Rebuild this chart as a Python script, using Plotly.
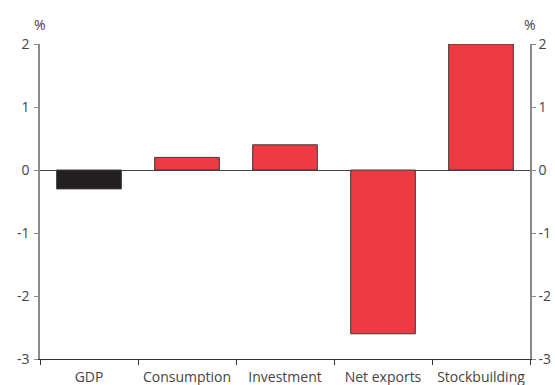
import plotly.graph_objects as go

categories = ["GDP", "Consumption", "Investment", "Net exports", "Stockbuilding"]
values = [-0.3, 0.2, 0.4, -2.6, 2.0]
colors = ["#231F20", "#EE3A43", "#EE3A43", "#EE3A43", "#EE3A43"]
y_ticks = [-3, -2, -1, 0, 1, 2]
y_ticktext = ["-3", "-2", "-1", "0", "1", "2"]

W, H = 555, 385
L, R, T, B = 40, 25, 44, 26

fig = go.Figure()
fig.add_trace(go.Bar(x=categories, y=values, marker=dict(color=colors, line=dict(color="#3a3a3a", width=1)),
                     showlegend=False, hoverinfo="skip"))
fig.add_trace(go.Scatter(x=categories, y=values, yaxis="y2", mode="markers",
                         marker=dict(opacity=0), showlegend=False, hoverinfo="skip"))

font = dict(family="Open Sans, Lato, sans-serif", size=14, color="#444444")
axis_col = "#8a8a8a"

fig.update_layout(
    width=W, height=H, margin=dict(l=L, r=R, t=T, b=B, pad=0, autoexpand=False),
    paper_bgcolor="white", plot_bgcolor="white", font=font,
    bargap=0.34,
    xaxis=dict(type="category", tickson="boundaries", ticks="outside", ticklen=5, tickcolor="#333",
               showline=True, linecolor="#333", linewidth=1, showgrid=False, tickfont=font,
               automargin=False, ticklabelstandoff=5),
    yaxis=dict(range=[-3, 2], tickvals=y_ticks, ticktext=y_ticktext, ticks="outside", ticklen=4,
               tickcolor=axis_col, showline=True, linecolor=axis_col, linewidth=1.5, showgrid=False,
               zeroline=True, zerolinecolor="#444", zerolinewidth=1, tickfont=font, automargin=False,
               ticklabelstandoff=2),
    yaxis2=dict(range=[-3, 2], tickvals=y_ticks, ticktext=y_ticktext, ticks="outside", ticklen=4,
                tickcolor=axis_col, overlaying="y", side="right", showline=True, linecolor=axis_col,
                linewidth=1.5, showgrid=False, zeroline=False, tickfont=font, automargin=False),
    annotations=[
        dict(text="%", x=0, y=1, xref="paper", yref="paper", xanchor="center", yanchor="middle",
             yshift=20, showarrow=False, font=font),
        dict(text="%", x=1, y=1, xref="paper", yref="paper", xanchor="center", yanchor="middle",
             yshift=20, showarrow=False, font=font),
    ],
)

fig.write_html("out.html")
